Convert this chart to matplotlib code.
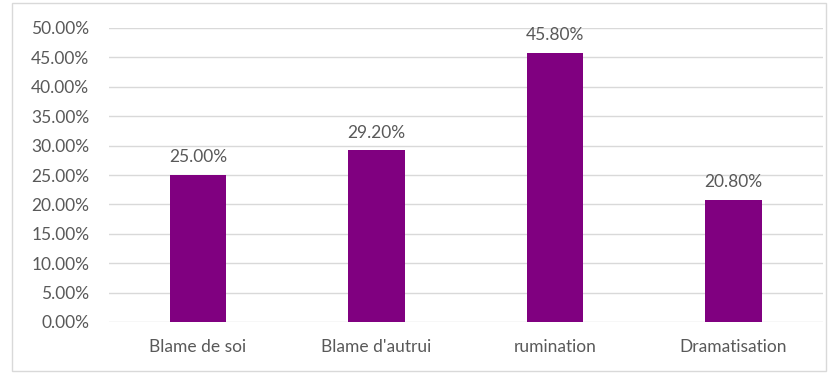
import matplotlib
matplotlib.use("Agg")
import matplotlib.pyplot as plt
from matplotlib.patches import Rectangle
from matplotlib.ticker import FuncFormatter, MultipleLocator

categories = ["Blame de soi", "Blame d'autrui", "rumination", "Dramatisation"]
values = [25.00, 29.20, 45.80, 20.80]

plt.rcParams['font.family'] = ['Lato', 'DejaVu Sans']
txt = '#595959'

fig = plt.figure(figsize=(8.39, 3.74), dpi=100)
ax = fig.add_axes([108.75/839, 1 - 322/374, (822.75-108.75)/839, 294/374])

x = range(len(categories))
bars = ax.bar(x, values, width=0.314, color='#800080', zorder=3)
for xi, v in zip(x, values):
    ax.annotate(f"{v:.2f}%", (xi, v), xytext=(0, 7), textcoords='offset points',
                ha='center', va='bottom', fontsize=12.5, color=txt)

ax.set_xlim(-0.5, len(categories) - 0.5)
ax.set_ylim(0, 50)
ax.yaxis.set_major_locator(MultipleLocator(5))
ax.yaxis.set_major_formatter(FuncFormatter(lambda v, p: f"{v:.2f}%"))
ax.set_xticks(list(x))
ax.set_xticklabels(categories)
ax.grid(axis='y', color='#d9d9d9', linewidth=1, zorder=0)
for s in ax.spines.values():
    s.set_visible(False)
ax.tick_params(axis='both', length=0, labelsize=12.5, colors=txt)
ax.tick_params(axis='x', pad=12)
ax.tick_params(axis='y', pad=14)

fig.patches.append(Rectangle((12/839, 1 - 371/374), (826-12)/839, (371-3)/374,
                             transform=fig.transFigure, fill=False,
                             edgecolor='#d9d9d9', linewidth=1))
fig.savefig("out.png", dpi=100)
